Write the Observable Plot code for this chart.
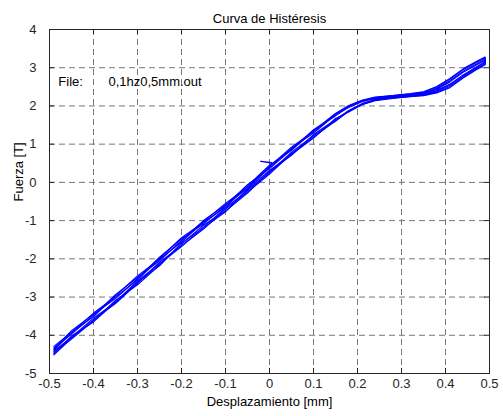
<!DOCTYPE html>
<html><head><meta charset="utf-8">
<script src="https://cdn.jsdelivr.net/npm/d3@7"></script>
<script src="https://cdn.jsdelivr.net/npm/@observablehq/plot@0.6"></script>
<style>html,body{margin:0;padding:0;background:#fff;}</style>
</head><body><div id="chart"></div>
<script>
const title = "Curva de Histéresis";
const xLabel = "Desplazamiento [mm]";
const yLabel = "Fuerza [T]";
const xTicks = [-0.5,-0.4,-0.3,-0.2,-0.1,0,0.1,0.2,0.3,0.4,0.5];
const yTicks = [-5,-4,-3,-2,-1,0,1,2,3,4];
const annotations = [
  {x: -0.48, y: 2.62, label: "File:"},
  {x: -0.366, y: 2.62, label: "0,1hz0,5mm.out"}
];
// displacement grid shared by every branch
const disp = [-0.49,-0.45,-0.40,-0.35,-0.30,-0.25,-0.20,-0.15,-0.10,-0.05,0,0.05,0.10,0.15,0.18,0.21,0.24,0.28,0.32,0.35,0.38,0.41,0.44,0.47,0.49];
// force per cycle: loading (up) and unloading (down) branches
const loopAUp   = [-4.51,-4.08,-3.59,-3.17,-2.64,-2.09,-1.66,-1.22,-0.70,-0.25,0.22,0.75,1.18,1.62,1.86,2.04,2.15,2.21,2.25,2.28,2.36,2.51,2.75,2.97,3.10];
const loopADown = [-4.29,-3.92,-3.51,-2.97,-2.45,-2.01,-1.56,-1.03,-0.55,-0.12,0.42,0.92,1.33,1.79,2.00,2.14,2.22,2.27,2.31,2.36,2.49,2.70,2.95,3.14,3.26];
const loopBUp   = [-4.45,-4.10,-3.62,-3.09,-2.68,-2.16,-1.61,-1.12,-0.75,-0.28,0.29,0.71,1.25,1.64,1.88,2.05,2.16,2.22,2.26,2.29,2.38,2.54,2.78,3.00,3.13];
const loopBDown = [-4.36,-3.88,-3.45,-3.04,-2.52,-1.96,-1.48,-1.08,-0.61,-0.06,0.36,0.86,1.38,1.74,1.98,2.13,2.21,2.26,2.30,2.34,2.46,2.66,2.91,3.10,3.23];
const loopCUp   = [-4.48,-4.02,-3.65,-3.13,-2.58,-2.13,-1.68,-1.17,-0.67,-0.21,0.26,0.79,1.22,1.60,1.87,2.06,2.17,2.23,2.27,2.30,2.40,2.57,2.81,3.02,3.16];
const loopCDown = [-4.33,-3.97,-3.48,-2.94,-2.49,-2.05,-1.52,-1.00,-0.59,-0.16,0.39,0.89,1.29,1.77,1.96,2.11,2.20,2.25,2.29,2.33,2.44,2.63,2.88,3.07,3.20];
const loopDUp   = [-4.42,-4.05,-3.55,-3.15,-2.61,-2.18,-1.59,-1.19,-0.77,-0.18,0.31,0.73,1.16,1.67,1.84,2.03,2.14,2.20,2.24,2.27,2.34,2.48,2.73,2.95,3.08];
const loopDDown = [-4.39,-3.94,-3.42,-3.00,-2.55,-1.99,-1.45,-1.05,-0.65,-0.09,0.45,0.84,1.35,1.80,2.01,2.15,2.23,2.27,2.32,2.37,2.51,2.72,2.97,3.16,3.28];
// small stray excursion near the origin
const spikeX = [0.005,-0.02,-0.008,0.004];
const spikeY = [0.52,0.55,0.53,0.50];

const loops = [[loopAUp, loopADown],[loopBUp, loopBDown],[loopCUp, loopCDown],[loopDUp, loopDDown]];
const rows = [];
loops.forEach(([up, down], i) => {
  disp.forEach((x, j) => rows.push({x, y: up[j], loop: i}));
  for (let j = disp.length - 1; j >= 0; j--) rows.push({x: disp[j], y: down[j], loop: i});
});
spikeX.forEach((x, j) => rows.push({x, y: spikeY[j], loop: 99}));

const W = 503, H = 416, mL = 49, mR = 14, mT = 29, mB = 43;
const fw = W - mL - mR, fh = H - mT - mB;
const ink = "#262626";
const plot = Plot.plot({
  width: W, height: H,
  marginLeft: mL, marginRight: mR, marginTop: mT, marginBottom: mB,
  style: {fontFamily: "'Liberation Sans', Arial, sans-serif", fontSize: "13px", background: "#fff", color: ink},
  x: {domain: [-0.5, 0.5]},
  y: {domain: [-5, 4]},
  marks: [
    Plot.gridX(xTicks.slice(1, -1), {stroke: "#777", strokeOpacity: 1, strokeDasharray: "6,4"}),
    Plot.gridY(yTicks.slice(1, -1), {stroke: "#777", strokeOpacity: 1, strokeDasharray: "6,4"}),
    Plot.line(rows, {x: "x", y: "y", z: "loop", stroke: "#0000ff", strokeWidth: 1.2, curve: "linear"}),
    Plot.frame({stroke: ink, strokeWidth: 1}),
    Plot.ruleX(xTicks, {x: d => d, insetTop: fh - 5, stroke: ink}),
    Plot.ruleX(xTicks, {x: d => d, insetBottom: fh - 5, stroke: ink}),
    Plot.ruleY(yTicks, {y: d => d, insetRight: fw - 5, stroke: ink}),
    Plot.ruleY(yTicks, {y: d => d, insetLeft: fw - 5, stroke: ink}),
    Plot.axisX(xTicks, {tickSize: 0, tickPadding: 5, tickFormat: d => String(d), label: null, fill: ink, fontSize: 13}),
    Plot.axisY(yTicks, {tickSize: 0, tickPadding: 13, tickFormat: d => String(d), label: null, fill: ink, fontSize: 13}),
    Plot.text(annotations, {x: "x", y: "y", text: "label", textAnchor: "start", fill: "#000", fontSize: 13}),
    Plot.text([title], {frameAnchor: "top", dy: -16, fill: "#000", fontSize: 13}),
    Plot.text([xLabel], {frameAnchor: "bottom", dy: 32, fill: "#000", fontSize: 13}),
    Plot.text([yLabel], {frameAnchor: "left", dx: -31, rotate: -90, fill: "#000", fontSize: 13})
  ]
});
document.getElementById("chart").appendChild(plot);
</script>
</body></html>
